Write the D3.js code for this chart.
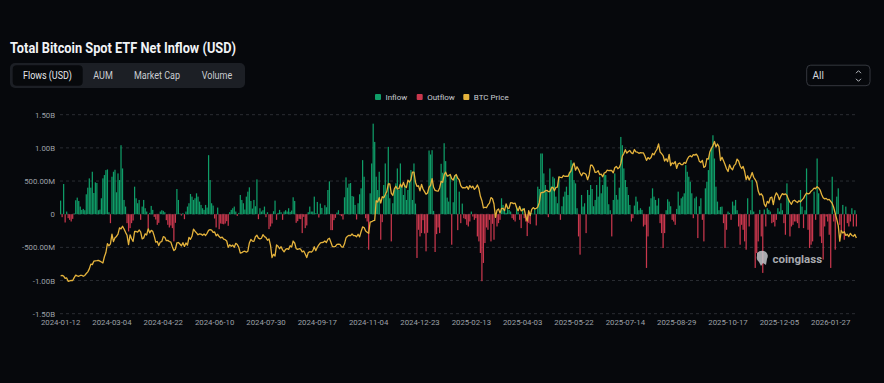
<!DOCTYPE html>
<html><head><meta charset="utf-8">
<script src="https://cdn.jsdelivr.net/npm/d3@7"></script>
<style>html,body{margin:0;padding:0;background:#06080c;}svg{display:block;}</style>
</head><body>
<svg id="chart" width="884" height="383"></svg>
<script>
const chartTitle = "Total Bitcoin Spot ETF Net Inflow (USD)";
const tabLabels = ["Flows (USD)", "AUM", "Market Cap", "Volume"];
const legendLabels = ["Inflow", "Outflow", "BTC Price"];
const rangeLabel = "All";
const startDate = "2024-01-12";
const marketHolidays = ["2024-01-15","2024-02-19","2024-03-29","2024-05-27","2024-06-19","2024-07-04","2024-09-02","2024-11-28","2024-12-25",
  "2025-01-01","2025-01-09","2025-01-20","2025-02-17","2025-04-18","2025-05-26","2025-06-19","2025-07-04","2025-09-01","2025-11-27","2025-12-25",
  "2026-01-01","2026-01-19","2026-02-16"];
const tickLabels = ["2024-01-12","2024-03-04","2024-04-22","2024-06-10","2024-07-30","2024-09-17","2024-11-04","2024-12-23",
  "2025-02-13","2025-04-03","2025-05-22","2025-07-14","2025-08-29","2025-10-17","2025-12-05","2026-01-27"];
const yTickValues = [-1.5e9, -1e9, -5e8, 0, 5e8, 1e9, 1.5e9];
const yTickLabels = ["-1.50B", "-1.00B", "-500.00M", "0", "500.00M", "1.00B", "1.50B"];

// Daily net flow, millions of USD
const netFlowM = [
205,-45,455,-125,40,-60,-85,-110,-70,10,
210,250,200,115,65,80,60,300,400,540,
400,640,320,480,470,60,70,240,540,590,
665,675,30,-135,565,640,670,330,615,515,
1040,690,215,115,-135,-260,-210,-135,-95,415,
240,165,215,-85,115,215,90,40,-210,20,
125,65,-40,-80,-160,-130,40,60,50,30,
-90,-160,-200,-170,-210,-410,-130,380,215,10,
-20,15,-75,40,115,165,305,265,215,240,
315,265,190,140,90,65,140,100,890,515,
165,130,-65,-200,100,-226,-140,-146,-152,-140,
-105,-175,31,65,90,115,40,-25,20,290,
215,165,70,265,340,405,200,85,215,120,
525,-75,90,40,60,115,-45,30,-225,-185,
-140,45,205,-85,20,65,30,-85,40,60,
40,90,35,55,255,200,-130,-105,-70,-75,
-285,-40,-210,-170,30,115,40,40,265,15,
185,-50,160,95,5,135,105,365,495,-240,
-240,-90,-55,25,60,-15,-30,-80,255,555,
400,460,470,275,265,140,-80,165,300,390,
815,565,-60,-110,-535,315,765,1365,1090,565,
365,640,-385,-120,440,765,300,1015,240,-410,
165,365,465,690,365,765,415,290,440,215,
365,490,665,215,765,160,-660,-235,-335,-285,
-90,-290,-560,-280,960,900,965,50,-570,-300,
-200,-285,760,625,1070,800,250,190,590,-460,
180,590,590,-240,340,-135,160,-60,-75,-160,
-185,-110,40,-35,-85,-60,-335,-410,-585,-1010,
-735,-435,-200,-235,-85,-410,-145,-385,-10,-185,
-135,-85,240,140,65,20,115,65,40,-60,
-85,-110,115,30,-85,-210,90,-60,-110,-330,
-130,-150,15,5,75,-170,415,380,915,915,
615,440,340,-45,690,420,565,540,265,165,
565,-85,120,265,340,415,290,640,815,765,
515,465,90,-335,-610,290,115,165,-285,365,
290,440,380,120,215,440,265,565,315,440,
600,590,415,150,60,-335,215,615,290,220,
400,1165,1040,690,515,410,290,140,-110,-60,
130,265,190,60,90,65,-185,-160,-810,-335,
115,240,390,265,215,130,240,-135,-285,-510,
-285,60,225,190,120,-85,-110,-160,80,340,
130,240,265,315,740,640,565,490,315,-60,
240,265,-360,120,240,-85,-410,390,490,665,
915,990,1190,840,415,190,60,110,115,-135,
-510,-235,40,20,-85,190,130,215,60,-185,
-460,-160,-235,-410,-535,240,-185,60,515,40,
-810,-585,-410,65,-335,-885,70,-185,90,65,
40,-135,-120,-185,-85,90,40,165,60,-135,
-310,465,240,-335,-185,-160,-110,-110,-135,-210,
365,115,-210,60,690,-235,-510,-460,-410,340,
-85,840,315,-335,-435,-685,-185,-35,-110,-310,
-810,565,-110,-535,265,390,-160,-260,140,-385,
115,-135,-185,-110,90,-185,60,-185
];

// BTC price, thousands of USD
const btcPriceK = [
42.8,43.1,42.7,41.3,41.6,39.5,39.8,40.1,40.0,41.8,
43.3,42.9,42.6,43.1,43.2,42.6,43.1,44.3,45.3,47.1,
50.0,49.7,51.8,52.0,52.1,52.3,51.8,51.3,50.7,54.5,
57.1,62.5,61.2,62.4,68.3,63.8,66.1,66.9,68.3,72.1,
71.5,73.1,71.4,69.4,67.6,61.9,67.9,65.5,63.8,69.9,
69.9,69.5,70.8,69.7,65.4,66.0,68.5,67.8,71.6,69.1,
70.6,70.0,67.1,63.4,63.8,61.3,63.5,63.8,66.8,66.4,
64.3,64.5,63.8,63.4,60.6,58.3,59.1,62.9,63.2,62.3,
61.2,63.1,60.8,62.9,61.6,66.3,65.2,67.0,71.4,70.1,
69.1,67.9,68.5,68.3,67.6,68.4,67.5,68.8,70.6,71.1,
70.8,69.4,69.6,67.3,68.2,66.8,66.0,66.5,65.2,64.9,
64.1,60.3,61.8,60.9,61.6,60.3,62.7,62.0,60.2,56.7,
57.0,57.7,57.9,57.3,57.9,62.9,65.1,64.1,63.9,66.7,
67.6,65.9,65.4,65.8,68.0,66.8,66.2,64.6,65.4,61.5,
54.0,56.0,55.0,61.7,60.9,59.4,60.6,58.7,57.5,59.0,
59.5,59.0,61.2,60.4,64.1,62.9,59.5,59.0,59.4,59.1,
57.5,58.0,56.2,54.0,57.0,57.6,57.3,58.1,60.6,58.2,
60.3,61.8,62.9,63.2,63.3,64.1,63.2,65.2,65.8,63.3,
60.8,60.6,60.8,62.1,62.2,62.1,60.6,60.3,62.4,66.0,
67.0,67.6,67.4,68.4,67.4,67.4,66.7,68.2,66.6,69.9,
72.7,72.3,70.2,69.5,68.8,75.6,75.9,76.5,76.7,88.7,
87.9,90.5,87.3,91.1,90.5,92.3,94.3,98.9,98.9,93.1,
91.9,95.9,97.5,95.9,96.0,98.8,97.0,99.9,97.4,96.7,
101.2,100.0,101.5,106.1,106.1,100.0,97.5,97.8,94.7,98.7,
95.8,94.2,92.6,93.4,96.9,98.1,102.1,96.9,95.0,94.7,
94.5,96.5,100.5,99.9,104.5,106.1,103.7,104.0,104.7,102.1,
101.3,103.7,104.7,102.4,101.4,97.9,96.6,96.6,96.5,97.4,
95.7,97.9,96.6,97.5,95.6,96.5,98.3,96.1,91.4,88.7,
84.3,84.7,84.4,86.1,87.2,90.6,89.9,86.7,78.5,82.9,
83.7,81.1,84.0,84.0,82.7,86.8,84.2,84.0,87.5,87.4,
86.9,87.2,84.4,82.5,85.2,82.5,83.1,83.8,79.2,76.3,
82.6,79.6,83.4,84.5,83.7,84.0,84.9,87.5,93.4,93.7,
93.9,94.7,95.0,94.3,94.2,96.5,96.9,94.7,96.8,97.0,
103.2,102.9,102.8,104.1,103.5,103.7,103.5,105.6,106.8,109.7,
111.7,107.3,109.4,107.8,105.6,103.9,105.7,105.4,104.7,101.5,
104.4,110.3,110.3,108.7,105.9,106.1,107.0,104.6,104.9,103.3,
105.6,106.0,107.3,107.0,107.1,107.1,105.7,108.8,109.6,108.2,
108.9,111.3,115.9,117.5,119.8,117.7,118.7,119.3,117.9,117.4,
119.9,118.5,118.3,117.6,118.0,117.9,117.8,115.8,113.3,115.0,
114.1,115.0,117.5,116.7,118.7,120.2,123.3,118.4,117.4,116.2,
112.9,114.3,112.5,116.9,110.1,111.8,111.2,112.6,108.4,111.2,
111.7,110.7,110.7,112.0,111.5,113.9,115.5,116.1,115.4,116.8,
116.5,117.1,115.7,112.7,112.0,113.3,109.0,109.7,114.4,114.1,
118.6,120.6,122.3,124.8,121.5,123.3,121.7,113.2,115.2,113.0,
110.8,108.2,106.5,110.6,108.5,107.6,110.1,111.0,114.1,112.9,
110.0,108.3,109.6,106.5,101.6,103.9,101.3,103.3,105.9,103.0,
101.6,99.7,94.6,92.2,92.9,91.5,86.6,85.1,88.3,87.3,
90.5,90.9,86.3,91.3,93.5,92.1,89.3,91.5,93.0,92.4,
92.8,92.0,89.5,87.8,86.5,88.5,89.0,88.2,87.6,88.7,
88.0,89.2,90.1,92.0,93.4,92.8,93.2,94.5,95.3,96.4,
96.0,97.2,96.5,95.2,92.5,90.5,89.8,90.1,89.2,89.5,
88.3,87.0,84.5,81.0,77.5,73.5,64.0,70.5,69.0,69.8,
67.5,68.2,66.8,68.8,67.5,67.0,68.1,66.0
];

const colors = {bg:"#06080c", inflow:"#0f9d68", outflow:"#c9374d", price:"#e5b33c",
  grid:"#2a2d33", axisText:"#9da1a8", title:"#f1f3f6"};

function tradingDays(start, n, hol) {
  const out = [], H = new Set(hol);
  const d = new Date(start + "T00:00:00Z");
  while (out.length < n) {
    const wd = d.getUTCDay(), s = d.toISOString().slice(0, 10);
    if (wd !== 0 && wd !== 6 && !H.has(s)) out.push(s);
    d.setUTCDate(d.getUTCDate() + 1);
  }
  return out;
}
const dates = tradingDays(startDate, netFlowM.length, marketHolidays);
const data = dates.map((d, i) => ({date: d, flow: netFlowM[i] * 1e6, price: btcPriceK[i] * 1000}));

const svg = d3.select("#chart");
const font = "Roboto, 'Noto Sans', sans-serif";
svg.append("rect").attr("width", 884).attr("height", 383).attr("fill", colors.bg);

// Title
svg.append("text").attr("x", 10).attr("y", 53.3).text(chartTitle)
  .attr("font-family", font).attr("font-weight", 700).attr("font-size", 14)
  .attr("fill", colors.title).attr("textLength", 226).attr("lengthAdjust", "spacingAndGlyphs");

// Tabs
svg.append("rect").attr("x", 10).attr("y", 63).attr("width", 235).attr("height", 25).attr("rx", 5).attr("fill", "#1c1f25");
svg.append("rect").attr("x", 12.7).attr("y", 65.2).attr("width", 70).attr("height", 20.6).attr("rx", 4).attr("fill", "#07090c");
const tabCenters = [47.5, 103, 157, 217];
const tabWidths = [49, 19.5, 46, 30.5];
tabLabels.forEach((t, i) => {
  svg.append("text").attr("x", tabCenters[i]).attr("y", 79.3).attr("text-anchor", "middle").text(t)
    .attr("font-family", font).attr("font-size", 10).attr("fill", i === 0 ? "#e6e8eb" : "#c9ccd1")
    .attr("textLength", tabWidths[i]).attr("lengthAdjust", "spacingAndGlyphs");
});

// Range select
svg.append("rect").attr("x", 806.7).attr("y", 65.2).attr("width", 63.3).attr("height", 20.5).attr("rx", 4)
  .attr("fill", "none").attr("stroke", "#34373e").attr("stroke-width", 1);
svg.append("text").attr("x", 812.5).attr("y", 79).text(rangeLabel)
  .attr("font-family", font).attr("font-size", 10).attr("fill", "#d4d7dc");
svg.append("path").attr("d", "M856,73.2 L858.5,70.7 L861,73.2 M856,78.8 L858.5,81.3 L861,78.8")
  .attr("fill", "none").attr("stroke", "#b9bcc2").attr("stroke-width", 1);

// Legend
const legendColors = [colors.inflow, colors.outflow, colors.price];
const legendSq = [375, 416.7, 463.3];
legendLabels.forEach((t, i) => {
  svg.append("rect").attr("x", legendSq[i]).attr("y", 94).attr("width", 6).attr("height", 6).attr("rx", 1).attr("fill", legendColors[i]);
  svg.append("text").attr("x", legendSq[i] + 10.5).attr("y", 100).text(t)
    .attr("font-family", font).attr("font-size", 8).attr("fill", "#c9ccd2");
});

// Scales
const plotL = 60, plotR = 857;
const x = d3.scaleBand().domain(dates).range([plotL, plotR]).paddingInner(0.18).paddingOuter(0);
const y = d3.scaleLinear().domain([-1.5e9, 1.5e9]).range([313.7, 114.7]);
const yP = d3.scaleLinear().domain([39900, 124800]).range([280.7, 141.5]);

// Grid
svg.append("g").selectAll("line").data(yTickValues).join("line")
  .attr("x1", plotL).attr("x2", plotR).attr("y1", d => y(d)).attr("y2", d => y(d))
  .attr("stroke", colors.grid).attr("stroke-width", 1).attr("stroke-dasharray", "3,3");

// Y axis
const yAxis = svg.append("g").attr("transform", `translate(${plotL},0)`)
  .call(d3.axisLeft(y).tickValues(yTickValues).tickFormat((d, i) => yTickLabels[i]).tickSize(0).tickPadding(5));
yAxis.select(".domain").remove();
yAxis.selectAll("text").attr("font-family", font).attr("font-size", 7.8).attr("fill", colors.axisText);

// X axis
const xAxis = svg.append("g").attr("transform", `translate(0,314)`)
  .call(d3.axisBottom(x).tickValues(tickLabels).tickSize(0).tickPadding(5));
xAxis.select(".domain").remove();
xAxis.selectAll("text").attr("font-family", font).attr("font-size", 7.8).attr("fill", colors.axisText);

// Bars
svg.append("g").selectAll("rect").data(data).join("rect")
  .attr("x", d => x(d.date)).attr("width", x.bandwidth())
  .attr("y", d => Math.min(y(d.flow), y(0)))
  .attr("height", d => Math.abs(y(d.flow) - y(0)))
  .attr("fill", d => d.flow >= 0 ? colors.inflow : colors.outflow);

// Price line
const line = d3.line().x(d => x(d.date) + x.bandwidth() / 2).y(d => yP(d.price));
svg.append("path").datum(data).attr("d", line).attr("fill", "none")
  .attr("stroke", colors.price).attr("stroke-width", 1.3).attr("stroke-linejoin", "round");

// Watermark
const wm = svg.append("g").attr("opacity", 0.85);
wm.append("path").attr("d", "M757,253 Q761,249 766,252 Q769,255 767,259 L766,265 L763,263 L761,266 L759,262 Q756,260 757,256 Z")
  .attr("fill", "#c4c6cb");
wm.append("text").attr("x", 772.5).attr("y", 263).text("coinglass")
  .attr("font-family", font).attr("font-weight", 700).attr("font-size", 11.5).attr("fill", "#c4c6cb");
</script>
</body></html>
